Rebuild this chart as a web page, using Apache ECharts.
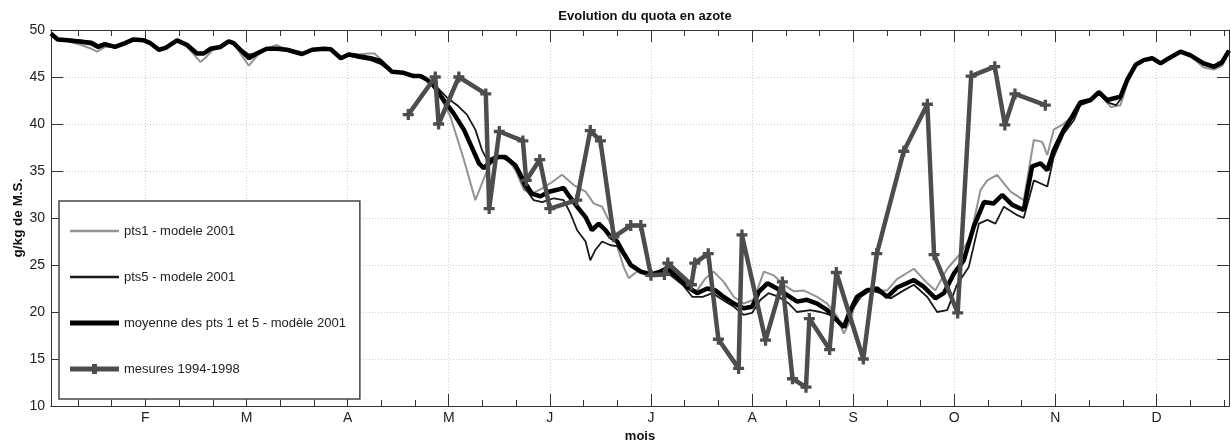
<!DOCTYPE html>
<html>
<head>
<meta charset="utf-8">
<script src="https://cdn.jsdelivr.net/npm/echarts@6/dist/echarts.min.js"></script>
<style>
  html, body { margin: 0; padding: 0; background: #fff; }
  #chart { width: 1231px; height: 443px; }
</style>
</head>
<body>
<div id="chart"></div>
<script>
// axe des x : jours de l'année
var monthDays = [30, 60, 90, 120, 150, 180, 210, 240, 270, 300, 330];
var monthNames = ['F', 'M', 'A', 'M', 'J', 'J', 'A', 'S', 'O', 'N', 'D'];
var decadeDays = [10, 20, 30, 40, 50, 60, 70, 80, 90, 100, 110, 120, 130, 140, 150, 160, 170, 180,
  190, 200, 210, 220, 230, 240, 250, 260, 270, 280, 290, 300, 310, 320, 330, 340, 350];

// pts1 - modele 2001 (gris)
var pts1 = [[2,49.5],[4,48.9],[7,48.8],[11,48.4],[14,48.0],[15.7,47.7],[18,48.2],[21,48.2],[24,48.6],[26.5,49.0],
  [29.5,48.9],[31.5,48.6],[34,47.8],[36,48.1],[39.4,48.9],[42.4,48.2],[46.3,46.6],[48,47.1],[50,47.9],[52.3,48.2],
  [54.7,48.8],[56.2,48.5],[58.2,47.5],[60.7,46.2],[63,47.2],[66,48.0],[69,48.4],[72,47.9],[76.5,47.4],[79.5,47.9],
  [83,48.0],[85,47.9],[88,47.0],[90.3,47.5],[93.3,47.4],[96,47.5],[98,47.5],[100,46.8],[103.2,45.5],[106.6,45.4],
  [109.6,45.1],[111.6,45.1],[113.6,44.6],[115.5,44.0],[118,42.5],[120.5,40.8],[124.5,36.2],[127.9,31.9],[129.9,33.7],
  [131.9,35.5],[134.3,36.5],[137.3,36.35],[139.8,35.1],[142.3,33.0],[144.7,32.6],[147.7,33.15],[150.2,33.7],
  [153.6,34.6],[157.1,33.5],[160.6,32.8],[163,31.55],[165.5,31.2],[168,29.4],[170,27.0],[171.9,24.8],[173.4,23.6],
  [175.9,24.3],[178.9,23.9],[182.8,24.3],[184.8,24.5],[187.8,23.4],[190.7,22.5],[193.7,22.3],[196,23.5],[198.6,24.3],
  [201.6,23.2],[204.6,21.6],[207.5,20.9],[210.5,21.3],[213.5,24.3],[216.4,23.9],[219.4,22.9],[222.4,22.2],[225.3,22.3],
  [229.3,21.6],[232.3,20.9],[235.3,19.5],[237.2,17.7],[239.2,19.1],[241.1,21.6],[244.1,22.5],[247.1,22.3],[250.1,22.3],
  [253,23.5],[258,24.6],[262,23.05],[264.4,22.3],[267.9,24.6],[271.8,26.2],[274.8,28.0],[277.8,33.0],[279.8,34.0],
  [282.7,34.6],[286.7,32.8],[290.6,31.9],[293.6,38.3],[296.1,38.1],[297.6,36.7],[299.5,39.4],[302,39.9],[305,40.8],
  [307.4,42.4],[310.4,42.6],[312.9,43.5],[316.4,41.8],[319.3,42.0],[321.3,44.3],[323.8,46.2],[326.2,46.8],[328.7,47.0],
  [331.2,46.4],[333.7,47.0],[337.1,47.7],[340.1,47.2],[344,46.0],[347,45.8],[349.5,46.2],[351.5,47.6]];

// pts5 - modele 2001 (noir fin)
var pts5 = [[2,49.7],[4,49.1],[7,49.0],[11,48.9],[14,48.8],[16,48.4],[18,48.6],[21,48.2],[24,48.6],[26.5,49.0],
  [29.5,48.9],[31.5,48.6],[34,47.9],[36,48.1],[39.4,48.9],[42.4,48.5],[45.3,47.6],[47.3,47.6],[49.3,48.0],[52.3,48.2],
  [54.7,48.8],[56.2,48.6],[58.2,48.0],[60.7,47.4],[63,47.5],[66,47.9],[69,47.9],[72,47.8],[76.5,47.45],[79.5,47.9],
  [83,48.0],[85,47.95],[88,47.0],[90.3,47.3],[93.3,47.0],[96.8,46.8],[99.7,46.4],[103.2,45.5],[106.6,45.4],[109.6,45.1],
  [111.6,45.0],[113.6,44.7],[115.5,44.3],[119.5,42.8],[122.5,42.0],[125.4,41.0],[127.9,39.4],[129.9,37.2],[131.4,36.2],
  [133.4,36.5],[136.3,36.35],[139.8,35.5],[142.3,33.35],[145.2,31.9],[147.7,31.7],[151.2,32.1],[154.1,31.9],
  [156.1,30.5],[158.1,28.7],[160.6,27.5],[162,25.5],[163.5,26.6],[165.5,27.5],[168,27.1],[170,27.0],[172.9,25.5],
  [175.9,24.5],[179.4,23.8],[182.8,24.0],[184.8,24.2],[189.4,22.9],[192.3,21.6],[195.3,21.6],[198.3,22.0],[201.2,21.3],
  [204.6,20.55],[207.5,19.7],[210,19.9],[212.5,21.3],[214.9,22.0],[217.9,21.6],[220.9,20.9],[223.3,20.0],[227.3,20.2],
  [230.3,20.0],[233.2,19.7],[235.7,19.0],[237.7,18.3],[239.7,20.2],[242.2,21.6],[245.1,22.3],[248.1,22.0],[251.1,21.45],
  [255,22.3],[258,22.9],[262,21.6],[264.9,20.0],[267.9,20.2],[270.8,22.9],[274.3,24.8],[277.3,29.4],[279.8,29.8],
  [282.2,29.4],[284.7,31.2],[288.7,30.3],[290.6,30.0],[293.6,34.0],[297.6,33.35],[299.5,36.5],[302.5,39.0],[305.5,40.4],
  [307.4,42.0],[310.4,42.4],[312.9,43.2],[315.4,42.3],[318,42.0],[319.3,42.6],[321.3,44.5],[323.8,46.2],[326.2,46.8],
  [328.7,47.0],[331.2,46.5],[333.7,47.0],[337.1,47.7],[340.1,47.3],[344,46.3],[347,46.0],[349.5,46.4],[351.5,47.8]];

// moyenne des pts 1 et 5
var moyenne = [[2,49.6],[4,49.0],[7,48.9],[11,48.75],[14,48.6],[16,48.2],[18,48.5],[21,48.2],[24,48.6],[26.5,49.0],
  [29.5,48.9],[31.5,48.6],[34,47.9],[36,48.1],[39.4,48.9],[42.4,48.4],[45.3,47.5],[47.3,47.5],[49.3,48.0],[52.3,48.2],
  [54.7,48.8],[56.2,48.6],[58.2,47.9],[60.7,47.0],[63,47.5],[66,48.0],[69,48.0],[72,47.9],[76.5,47.45],[79.5,47.9],
  [83,48.0],[85,47.95],[88,47.0],[90.3,47.4],[93.3,47.2],[96.8,47.0],[99.7,46.7],[103.2,45.55],[106.6,45.45],
  [109.6,45.1],[111.6,45.1],[113.6,44.7],[115.5,44.1],[118.5,42.55],[121.5,41.1],[124.5,39.4],[127,37.4],[129,35.8],
  [130.4,35.3],[132.4,36.0],[134.8,36.5],[136.8,36.5],[139.8,35.6],[142.3,33.9],[144.7,32.6],[147.2,32.3],[149.7,32.8],
  [152.2,33.0],[154.1,33.2],[155.6,32.4],[158.1,31.2],[160.6,30.1],[162.5,28.7],[164.5,29.4],[166.5,28.7],[168,28.0],
  [170,27.5],[172,26.2],[174,25.0],[177,24.3],[180,24.0],[182.8,24.3],[184.8,24.65],[187.8,23.75],[190.7,22.7],
  [193.7,22.0],[196.7,22.5],[199.1,22.3],[201.6,21.6],[204.6,20.9],[207.5,20.4],[210,20.55],[212,22.15],[214.5,23.05],
  [217.4,22.5],[220.4,21.8],[223.4,21.1],[226.3,21.3],[229.3,20.9],[232.3,20.2],[234.7,19.3],[237.2,18.4],[239.2,20.2],
  [241.1,21.6],[244.1,22.3],[247.1,22.5],[250.1,21.6],[253,22.6],[258,23.4],[260.9,22.7],[264.4,21.45],[266.9,22.0],
  [269.9,24.1],[272.8,25.5],[275.8,29.1],[278.8,31.7],[281.7,31.55],[284.2,32.45],[287.2,31.4],[290.6,30.85],
  [293.1,35.5],[295.6,35.8],[297.6,35.1],[299.5,37.2],[302.5,39.4],[305,40.8],[307.4,42.3],[310.4,42.55],[312.9,43.4],
  [315.4,42.55],[319.3,42.9],[321.3,44.7],[323.8,46.3],[326.2,46.8],[328.7,47.0],[331.2,46.45],[333.7,47.0],
  [337.1,47.7],[340.1,47.3],[344,46.45],[347,46.1],[349.5,46.6],[351.5,47.8]];

// mesures 1994-1998
var mesures = [[108,41],[116,45],[117,40],[123,45],[131,43.2],[132,31],[135,39.2],[142,38.2],[143,34],[147,36.2],
  [150,31],[158,31.9],[162,39.3],[165,38.2],[169,28],[174,29.2],[177,29.2],[180,23.9],[184,24],[185,25.2],
  [192,22.9],[193,25.2],[197,26.2],[200,17.1],[206,14],[207,28.2],[214,17],[219,23.2],[222,12.9],[226,12],
  [227,19.3],[233,16],[235,24.2],[243,15],[247,26.2],[255,37.1],[262,42.1],[264,26.1],[271,19.9],[275,45.1],
  [282,46.1],[285,39.9],[288,43.2],[297,42]];

var font = 'Arial, "Liberation Sans", Helvetica, sans-serif';
var boxColor = '#333';
var plus = 'path://M3.5,0h3v3.5h3.5v3h-3.5v3.5h-3v-3.5h-3.5v-3h3.5z';

// icônes de légende : trait horizontal (cadre 49x14 fixé par deux sous-chemins vides)
function bandIcon(th) {
  var y0 = 7 - th / 2;
  return 'path://M0,0L49,0M0,14L49,14M0,' + y0 + 'L49,' + y0 + 'L49,' + (y0 + th) + 'L0,' + (y0 + th) + 'Z';
}
var plusIcon = 'path://M0,0L49,0M0,14L49,14M0,4.5L22,4.5L22,2L27,2L27,4.5L49,4.5L49,9.5L27,9.5L27,12L22,12L22,9.5L0,9.5Z';

function xAx(pos, ticks, len, extra) {
  var a = {
    type: 'value', position: pos, min: 2, max: 351.5,
    axisLine: { show: true, onZero: false, lineStyle: { color: boxColor, width: 1 } },
    axisTick: { show: true, inside: true, length: len, customValues: ticks, lineStyle: { color: boxColor } },
    axisLabel: { show: false },
    splitLine: { show: false }
  };
  if (extra) { for (var k in extra) a[k] = extra[k]; }
  return a;
}

var chart = echarts.init(document.getElementById('chart'), null, { renderer: 'canvas' });
var option = {
  animation: false,
  backgroundColor: '#fff',
  title: {
    text: 'Evolution du quota en azote',
    left: 640, top: 5, textAlign: 'center',
    textStyle: { fontFamily: font, fontSize: 13, fontWeight: 'bold', color: '#111' }
  },
  grid: { left: 51, top: 30, width: 1178, height: 376, containLabel: false, outerBoundsMode: 'none' },
  legend: {
    orient: 'vertical', left: 59, top: 201,
    padding: [23, 14, 23, 11], itemGap: 32, itemWidth: 49, itemHeight: 14,
    backgroundColor: '#fff', borderColor: '#444', borderWidth: 1.5,
    textStyle: { fontFamily: font, fontSize: 13, color: '#222' },
    data: [
      { name: 'pts1 - modele 2001', icon: bandIcon(2.5) },
      { name: 'pts5 - modele 2001', icon: bandIcon(2.5) },
      { name: 'moyenne des pts 1 et 5 - modèle 2001', icon: bandIcon(5) },
      { name: 'mesures 1994-1998', icon: plusIcon }
    ]
  },
  xAxis: [
    xAx('bottom', monthDays, 12, {
      name: 'mois', nameLocation: 'middle', nameGap: 23,
      nameTextStyle: { fontFamily: font, fontSize: 13, fontWeight: 'bold', color: '#111' },
      axisLabel: {
        show: true, customValues: monthDays, margin: 5,
        fontFamily: font, fontSize: 14, color: '#222',
        formatter: function (v) { return monthNames[monthDays.indexOf(v)] || ''; }
      },
      splitLine: { show: true, lineStyle: { color: '#cfcfcf', type: [1, 2], width: 1 } }
    }),
    xAx('bottom', decadeDays, 6),
    xAx('top', monthDays, 12),
    xAx('top', decadeDays, 6)
  ],
  yAxis: [
    {
      type: 'value', position: 'left', min: 10, max: 50, interval: 5,
      name: 'g/kg de M.S.', nameLocation: 'middle', nameGap: 26, nameMoveOverlap: false,
      nameTextStyle: { fontFamily: font, fontSize: 13.5, fontWeight: 'bold', color: '#111' },
      axisLine: { show: true, lineStyle: { color: boxColor, width: 1 } },
      axisTick: { show: true, inside: true, length: 12, lineStyle: { color: boxColor } },
      axisLabel: { fontFamily: font, fontSize: 14, color: '#222', margin: 6 },
      splitLine: { show: true, lineStyle: { color: '#cfcfcf', type: [1, 2], width: 1 } }
    },
    {
      type: 'value', position: 'right', min: 10, max: 50, interval: 5,
      axisLine: { show: true, lineStyle: { color: boxColor, width: 1 } },
      axisTick: { show: true, inside: true, length: 12, lineStyle: { color: boxColor } },
      axisLabel: { show: false },
      splitLine: { show: false }
    }
  ],
  series: [
    {
      name: 'pts1 - modele 2001', type: 'line', data: pts1, symbol: 'none',
      lineStyle: { color: '#939393', width: 2 }, itemStyle: { color: '#939393' }
    },
    {
      name: 'pts5 - modele 2001', type: 'line', data: pts5, symbol: 'none',
      lineStyle: { color: '#1a1a1a', width: 1.8 }, itemStyle: { color: '#1a1a1a' }
    },
    {
      name: 'moyenne des pts 1 et 5 - modèle 2001', type: 'line', data: moyenne, symbol: 'none',
      lineStyle: { color: '#000', width: 4.5 }, itemStyle: { color: '#000' }
    },
    {
      name: 'mesures 1994-1998', type: 'line', data: mesures,
      symbol: plus, symbolSize: 11, showSymbol: true,
      lineStyle: { color: '#4d4d4d', width: 4.5 }, itemStyle: { color: '#4d4d4d' }
    }
  ]
};
chart.setOption(option);
</script>
</body>
</html>
